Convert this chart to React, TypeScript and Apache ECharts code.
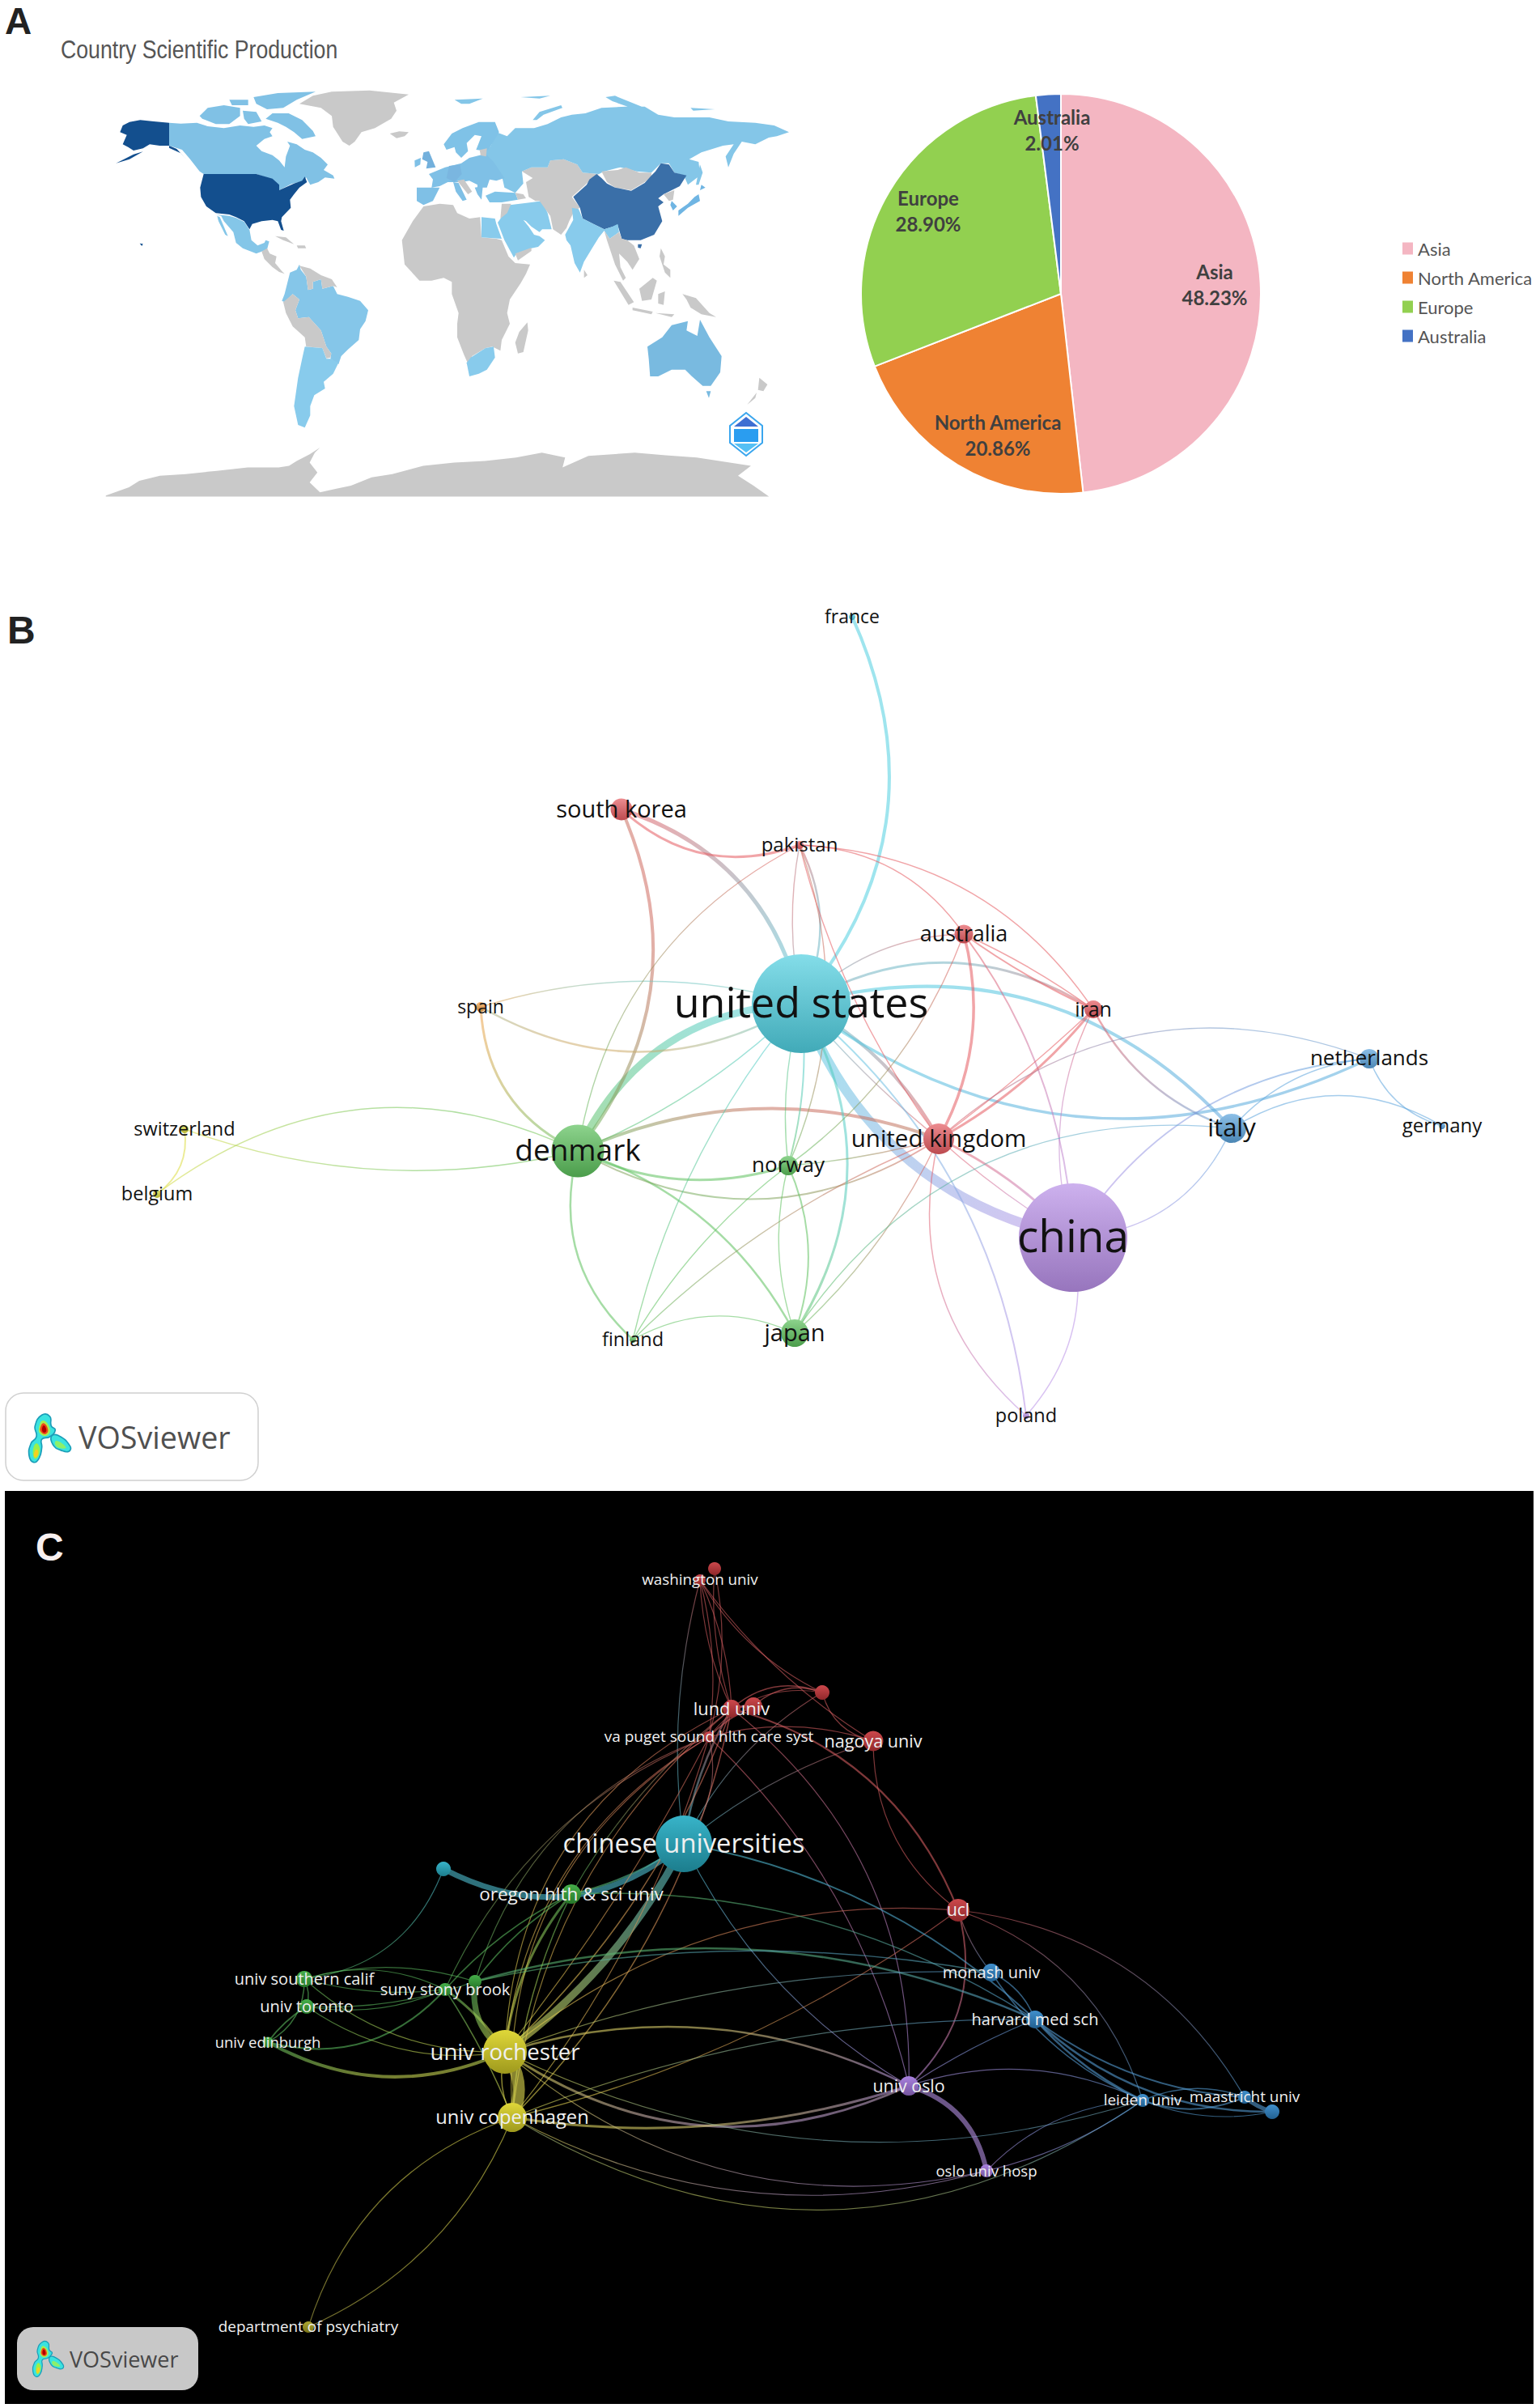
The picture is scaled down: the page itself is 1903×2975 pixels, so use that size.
import React, { useEffect, useRef } from "react";
import * as echarts from "echarts";

type Pt = [number, number];

// ---------- Panel A: pie ----------
const continents = ["Asia", "North America", "Europe", "Australia"];
const continentShare = [48.23, 20.86, 28.9, 2.01];
const continentColors = ["#f4b6c2", "#ef8233", "#92d050", "#4472c4"];
const pieLabelAt: Pt[] = [[1501, 351], [1233, 537], [1147, 260], [1300, 160]];

// ---------- Panel A: hand-traced map outlines ----------
const W = { ox: 110, oy: 100, sx: 3, sy: 3 };
const E = { ox: 480, oy: 100, sx: 3, sy: 3 };
const F = { ox: 600, oy: 100, sx: 3, sy: 3 };
const Z = { ox: 0, oy: 0, sx: 1.568, sy: 2.45 };
type Frame = typeof W;
const ring = (f: Frame, pts: number[]) => {
  const r: Pt[] = [];
  for (let i = 0; i < pts.length; i += 2) r.push([f.ox + pts[i] / f.sx, -(f.oy + pts[i + 1] / f.sy)]);
  r.push(r[0]);
  return [r];
};
const LIGHT = "#84c6e8";
const GRAY = "#c9c9c9";
const mapRegions: [string, string, [Frame, number[]][]][] = [
  ["Antarctica", GRAY, [[Z, [205,1500,250,1475,270,1455,310,1440,360,1435,420,1425,480,1415,540,1415,560,1410,575,1395,600,1375,620,1355,610,1370,600,1400,615,1430,600,1460,620,1490,650,1480,680,1470,720,1445,760,1435,820,1410,880,1400,940,1395,1000,1385,1050,1370,1095,1385,1090,1415,1140,1380,1230,1370,1290,1378,1350,1385,1455,1410,1430,1440,1460,1470,1490,1503,205,1503]]]],
  ["Greenland", GRAY, [[W, [780,85,830,55,900,40,1040,35,1185,50,1130,80,1140,110,1120,140,1060,175,1010,190,985,225,965,240,940,225,905,170,900,130,860,100]], [W, [1115,195,1150,187,1185,190,1170,205,1140,212]]]],
  ["Canada", "#80c1e5", [
    [W, [297,155,340,158,400,155,440,168,500,175,560,165,610,170,650,165,680,175,670,190,680,205,650,215,620,240,640,260,680,275,705,295,725,320,730,280,745,240,735,225,770,235,800,255,830,265,860,285,885,310,870,330,905,350,910,362,875,358,850,375,820,385,805,358,790,372,750,382,705,405,700,385,680,365,620,345,425,345,410,335,375,290,345,255,297,240]],
    [W, [830,185,790,145,740,120,680,120,655,140,700,155,730,170,760,190,790,215,840,205]],
    [W, [410,130,440,100,500,90,560,100,560,130,520,160,470,160,420,140]],
    [W, [610,60,700,45,840,40,770,70,720,100,660,105,620,85]],
    [W, [570,110,620,115,640,150,590,160,575,140]],
    [W, [520,70,590,70,590,90,530,90]],
  ]],
  ["United States", "#134f8e", [
    [W, [425,345,620,345,680,362,705,385,705,405,760,380,790,370,800,355,808,375,780,395,760,420,745,440,748,470,715,505,712,520,722,555,712,552,700,520,680,515,640,520,605,530,595,550,575,520,545,505,520,495,470,490,435,465,415,430,412,395]],
    [W, [297,155,240,150,190,145,150,152,125,165,115,190,140,200,125,235,145,245,165,258,200,250,225,235,262,240,297,240,325,252,362,292,340,268,297,248]],
    [W, [165,272,200,262,150,290,100,305]],
    [W, [188,602,200,604,196,612]],
  ]],
  ["Mexico", LIGHT, [[W, [470,495,520,500,545,508,575,522,595,552,602,590,625,610,650,600,655,590,668,595,660,625,640,632,620,640,570,620,545,600,535,560,500,520,490,500]], [W, [475,500,485,505,515,575,505,570,480,520]]]],
  ["Central America", GRAY, [[W, [640,632,660,620,670,640,695,650,690,675,715,705,725,715,705,708,680,690,650,660]], [W, [690,575,730,580,760,605,720,590]], [W, [770,610,800,610,805,620,775,620]]]],
  ["Brazil", "#85c6e9", [[W, [780,680,785,700,805,725,812,775,830,770,830,745,860,735,865,770,905,760,920,790,960,800,1005,815,1035,850,1025,890,1005,920,1000,960,960,995,935,1020,925,1050,895,1030,898,1010,880,985,860,925,815,875,775,880,765,850,780,810,755,790,725,820,715,815,725,790,735,750,745,710,770,700]]]],
  ["Andes", GRAY, [[W, [755,790,780,810,765,850,775,880,815,875,860,925,880,985,898,1010,895,1025,880,1028,865,990,805,985,800,950,755,910,730,860,720,820]], [W, [780,685,820,695,860,720,900,735,920,765,905,760,865,770,860,735,830,745,830,770,812,775,805,725]]]],
  ["Argentina", "#88cbec", [[W, [800,985,865,990,880,1030,895,1030,925,1045,905,1085,870,1115,875,1140,835,1165,820,1205,820,1240,800,1285,775,1275,760,1205,775,1100,790,1030]]]],
  ["Africa", GRAY, [[E, [130,465,190,455,240,460,255,490,300,510,340,505,345,580,400,585,420,590,445,650,470,675,525,680,510,715,490,750,450,810,440,860,450,900,420,960,415,1000,385,985,360,990,310,1020,300,1060,280,1015,255,950,255,900,260,860,235,790,235,745,205,730,160,740,115,740,60,680,50,590,90,520]], [E, [515,895,518,925,500,1005,480,1010,470,970,485,930]]]],
  ["South Africa", "#88cbec", [[E, [305,1025,360,990,390,985,395,1025,365,1070,335,1085,300,1095,290,1045]]]],
  ["Egypt", "#88cbec", [[E, [345,505,395,510,400,530,420,585,345,580]]]],
  ["Middle East", "#88cbec", [[E, [450,460,530,450,570,445,590,490,605,550,570,550,560,560,530,540,510,520,500,515,520,540,540,570,560,575,580,590,555,615,530,620,475,640,465,655,430,590,405,525,430,490]]]],
  ["Yemen", GRAY, [[E, [470,640,530,618,530,630,480,665]], [E, [420,455,455,455,440,490,415,510]]]],
  ["Turkey", "#80c4e8", [[E, [360,425,395,410,470,415,480,440,420,450,375,450]]]],
  ["Central Asia", GRAY, [[E, [495,335,530,320,590,320,600,295,650,290,700,310,720,340,780,345,755,360,730,385,680,430,710,470,690,480,670,520,660,545,640,570,610,550,600,500,560,445,545,445,520,430,510,375,535,360]], [E, [470,415,500,420,510,435,480,440]]]],
  ["Russia", "#84c6e8", [[E, [400,190,440,205,470,175,540,175,590,160,640,135,680,125,730,120,790,100,880,95,950,95,1000,125,1060,135,1190,135,1260,150,1360,155,1430,165,1485,190,1440,205,1410,210,1360,235,1310,225,1280,270,1260,320,1250,280,1280,235,1240,240,1160,265,1115,290,1150,300,1155,350,1110,385,1095,350,1060,340,1040,305,1010,305,975,340,920,335,860,320,800,335,780,345,720,340,700,310,650,290,600,295,590,320,530,320,495,335,500,380,470,415,430,395,420,350,380,340,360,295,360,260,380,240]],
    [F, [175,145,200,115,280,90,285,100,215,125,190,145]], [E, [245,70,350,65,300,85,270,85]], [E, [490,60,600,55,560,65]], [F, [445,60,480,55,590,100,540,100,470,75]], [F, [760,100,850,105,770,110]], [F, [795,310,805,340,790,385,780,385]],
  ]],
  ["Scandinavia", "#7fc2e7", [[E, [205,235,235,195,275,175,335,152,395,152,410,190,380,240,365,260,325,255,345,205,320,200,290,230,295,260,270,285,250,265,245,245,215,255]]]],
  ["Europe", "#7fc0e6", [[E, [150,345,210,320,270,305,300,285,360,270,390,300,430,360,400,370,375,365,365,395,330,395,330,385,300,370,270,375,255,375,220,375,190,390,160,395,165,365]], [E, [240,375,260,378,290,440,275,445,250,410]], [E, [320,395,350,390,345,440,330,420]], [E, [105,395,190,395,165,445,130,460,105,445]], [E, [97,295,120,285,118,310,98,320]]]],
  ["Balkans", GRAY, [[E, [255,370,280,365,310,410,295,420]], [E, [338,256,365,250,362,280,342,276]]]],
  ["Germany", "#7ab6e0", [[E, [225,315,265,310,272,345,245,375,215,360]]]],
  ["United Kingdom", "#73b0dc", [[E, [130,265,150,260,175,320,140,325,145,300,125,290]]]],
  ["Mongolia", GRAY, [[F, [430,335,490,330,520,320,570,340,615,340,615,355,590,375,540,405,480,395,450,375]]]],
  ["China", "#3a6fa8", [[F, [412,345,430,360,450,380,480,395,540,407,590,378,615,350,630,335,650,305,680,310,700,340,745,350,720,390,690,405,660,420,640,435,660,450,640,465,655,520,625,570,575,590,525,590,505,585,490,535,440,550,400,530,360,510,350,470,325,430,375,385,385,365]], [F, [565,605,580,605,575,620,565,618]]]],
  ["India", "#88cbec", [[F, [320,470,345,475,360,510,400,530,440,550,470,540,490,530,495,560,460,585,440,555,420,580,395,620,365,670,350,710,330,675,315,610,300,590,295,570,325,515]]]],
  ["Southeast Asia", GRAY, [[F, [440,555,460,585,495,560,505,585,525,590,550,610,570,660,545,700,525,670,495,640,500,690,520,730,510,740,480,680,450,590]], [F, [365,700,378,720,365,730]], [F, [475,740,500,745,550,820,530,830]], [F, [545,840,620,855,615,865,545,850]], [F, [570,770,620,730,635,740,615,810,580,815]], [F, [640,790,665,780,660,830,640,825]], [F, [650,620,665,650,660,680,685,700,685,730,665,710,645,650]], [F, [730,790,780,805,830,860,855,875,800,865,760,840,745,810]], [F, [630,860,700,865,690,875]], [F, [660,420,700,405,695,440,680,445]]]],
  ["Japan", "#6fb5e3", [[F, [800,385,815,395,795,405]], [F, [790,420,795,445,750,470,715,500,715,480,750,455,775,430]], [F, [690,445,710,465,695,480,685,460]]]],
  ["Australia", "#79bae0", [[F, [600,985,655,950,690,905,750,890,745,925,785,945,795,885,830,950,875,1020,870,1080,835,1130,805,1130,765,1095,740,1070,690,1070,640,1095,610,1095,605,1030]], [F, [818,1150,835,1150,828,1175]]]],
  ["New Zealand", GRAY, [[F, [1015,1100,1045,1125,1030,1150,1010,1145]], [F, [1005,1155,970,1200,1000,1175]]]],
];

// ---------- Panel B: network ----------
const bRed = "#e55a60", bCyan = "#4fcfe0", bPurple = "#b88fe6", bGreen = "#5cc05c", bBlue = "#5ba3dc", bOrange = "#f2a24a", bYellow = "#dcdc40";
const bNodes: [string, number, number, number, number, string][] = [
  ["france", 1053, 762, 8, 23, bCyan],
  ["south korea", 768, 1000, 27, 29, bRed],
  ["pakistan", 988, 1044, 10, 24, bRed],
  ["australia", 1191, 1154, 23, 27, bRed],
  ["united states", 990, 1240, 122, 52, bCyan],
  ["spain", 594, 1244, 12, 23, bOrange],
  ["iran", 1351, 1247, 22, 25, bRed],
  ["netherlands", 1692, 1308, 24, 26, bBlue],
  ["germany", 1782, 1391, 8, 24, bBlue],
  ["italy", 1522, 1394, 36, 31, bBlue],
  ["switzerland", 228, 1395, 10, 23.5, bYellow],
  ["united kingdom", 1160, 1407, 38, 29.5, bRed],
  ["denmark", 714, 1422, 65, 37, bGreen],
  ["norway", 974, 1440, 24, 26, bGreen],
  ["belgium", 194, 1475, 10, 23.5, bYellow],
  ["china", 1326, 1529, 134, 55, bPurple],
  ["japan", 982, 1647, 34, 29, bGreen],
  ["finland", 782, 1655, 8, 23.5, bGreen],
  ["poland", 1268, 1749, 8, 23.5, bPurple],
];
const bEdges: [string, string, number, number][] = [
  ["united states", "china", 12, -0.27],
  ["denmark", "united states", 9, 0.3],
  ["south korea", "united states", 5, 0.28],
  ["south korea", "pakistan", 3, -0.3],
  ["south korea", "denmark", 4, 0.3],
  ["france", "united states", 4, 0.31],
  ["spain", "united states", 1.5, 0.15],
  ["spain", "united states", 2.5, -0.29],
  ["spain", "denmark", 3, -0.3],
  ["switzerland", "denmark", 1.5, -0.15],
  ["belgium", "denmark", 1.5, 0.3],
  ["switzerland", "belgium", 2, 0.3],
  ["denmark", "pakistan", 1, 0.25],
  ["denmark", "united states", 1.5, -0.1],
  ["denmark", "united kingdom", 4, 0.2],
  ["denmark", "norway", 3, -0.2],
  ["denmark", "japan", 2.5, 0.2],
  ["denmark", "finland", 2.5, -0.3],
  ["denmark", "united kingdom", 2, -0.3],
  ["finland", "united kingdom", 1, 0.1],
  ["finland", "united states", 1, 0.12],
  ["finland", "norway", 1, 0.1],
  ["finland", "japan", 1, 0.25],
  ["united states", "united kingdom", 4, 0.15],
  ["united states", "united kingdom", 1, -0.05],
  ["united states", "australia", 1.5, 0.2],
  ["united states", "iran", 3, 0.3],
  ["united states", "italy", 4, 0.3],
  ["united states", "netherlands", 3.5, -0.3],
  ["united states", "japan", 3, 0.3],
  ["united states", "norway", 2, 0.1],
  ["united states", "norway", 1, -0.1],
  ["united states", "pakistan", 2.5, -0.25],
  ["pakistan", "united kingdom", 1.2, -0.1],
  ["pakistan", "norway", 1, 0.2],
  ["pakistan", "united states", 1.2, -0.1],
  ["pakistan", "australia", 1.2, 0.25],
  ["pakistan", "iran", 1.2, 0.25],
  ["australia", "iran", 2, -0.05],
  ["australia", "iran", 1.5, 0.05],
  ["australia", "united kingdom", 3.5, 0.2],
  ["australia", "norway", 1, 0.15],
  ["australia", "china", 2, 0.15],
  ["iran", "united kingdom", 3, 0.1],
  ["iran", "united kingdom", 1, 0.03],
  ["iran", "italy", 2.5, -0.2],
  ["iran", "china", 1.2, -0.2],
  ["united kingdom", "china", 3, 0.1],
  ["united kingdom", "china", 1, -0.05],
  ["united kingdom", "netherlands", 1.2, 0.3],
  ["united kingdom", "poland", 1.5, -0.3],
  ["united kingdom", "norway", 1, 0.05],
  ["united kingdom", "japan", 1, 0.1],
  ["china", "poland", 1.5, 0.25],
  ["united states", "poland", 2, 0.2],
  ["china", "italy", 1.2, -0.3],
  ["china", "netherlands", 2, 0.25],
  ["italy", "netherlands", 1, 0.2],
  ["italy", "germany", 1.2, 0.3],
  ["netherlands", "germany", 1.5, -0.25],
  ["japan", "italy", 1, 0.3],
  ["norway", "japan", 2, 0.2],
  ["norway", "japan", 1, -0.15],
];

// ---------- Panel C: network ----------
const cRed = "#c8383c", cTeal = "#27aec4", cGreen = "#36a83a", cYellow = "#dcd428", cBlue = "#2f85c8", cPurple = "#a276dc";
const cNodes: [string, string, number, number, number, number, string][] = [
  ["top", "", 883, 1938, 16, 0, cRed],
  ["wash", "washington univ", 865, 1952, 14, 18.8, cRed],
  ["lund", "lund univ", 904, 2111, 22, 21.8, cRed],
  ["red2", "", 931, 2108, 22, 0, cRed],
  ["red3", "", 1016, 2091, 18, 0, cRed],
  ["nagoya", "nagoya univ", 1079, 2151, 25, 21.6, cRed],
  ["va", "va puget sound hlth care syst", 876, 2146, 14, 19, cRed],
  ["chinese", "chinese universities", 845, 2278, 70, 32.7, cTeal],
  ["tealn", "", 548, 2309, 18, 0, cTeal],
  ["oregon", "oregon hlth & sci univ", 706, 2340, 24, 22.5, cGreen],
  ["grn", "", 587, 2448, 16, 0, cGreen],
  ["suny", "suny stony brook", 550, 2458, 16, 20, cGreen],
  ["usc", "univ southern calif", 376, 2445, 20, 20, cGreen],
  ["toronto", "univ toronto", 379, 2479, 18, 20, cGreen],
  ["edin", "univ edinburgh", 331, 2523, 13, 18.5, cGreen],
  ["roch", "univ rochester", 624, 2535, 54, 27.6, cYellow],
  ["cope", "univ copenhagen", 633, 2616, 36, 23.7, cYellow],
  ["psych", "department of psychiatry", 381, 2875, 14, 18.9, "#a8a020"],
  ["ucl", "ucl", 1184, 2360, 28, 21, cRed],
  ["monash", "monash univ", 1225, 2437, 22, 20, cBlue],
  ["harvard", "harvard med sch", 1279, 2495, 22, 20, cBlue],
  ["oslo", "univ oslo", 1123, 2577, 24, 21.4, cPurple],
  ["hosp", "oslo univ hosp", 1219, 2682, 16, 18.6, cPurple],
  ["leiden", "leiden univ", 1412, 2595, 16, 19, cBlue],
  ["maast", "maastricht univ", 1538, 2591, 16, 18.9, cBlue],
  ["blue2", "", 1572, 2609, 18, 0, cBlue],
];
const cEdges: [string, string, number, number][] = [
  ["chinese", "roch", 9, 0.12], ["chinese", "tealn", 7, 0.33], ["chinese", "oregon", 2, 0.1], ["chinese", "lund", 2.5, 0.1],
  ["chinese", "va", 1, -0.25], ["chinese", "wash", 1, 0.1], ["chinese", "red3", 1, 0.15], ["chinese", "nagoya", 1, 0.1],
  ["roch", "cope", 15, 0.3], ["roch", "cope", 1.5, -0.2], ["roch", "grn", 7, 0.3], ["roch", "suny", 3, -0.1],
  ["roch", "edin", 4, 0.25], ["roch", "oregon", 3, 0.15], ["roch", "oslo", 2.5, 0.2], ["roch", "oslo", 3, -0.28],
  ["cope", "oslo", 3, -0.12], ["cope", "hosp", 1, -0.2], ["roch", "hosp", 1, -0.25], ["cope", "leiden", 1, -0.32],
  ["roch", "leiden", 1, -0.2], ["roch", "lund", 1, 0.3], ["roch", "va", 1, 0.25], ["cope", "lund", 1, 0.2],
  ["cope", "va", 1, 0.3], ["suny", "va", 1, 0.2], ["grn", "va", 1, 0.25], ["oregon", "lund", 1.2, 0.1],
  ["roch", "lund", 1.5, -0.12], ["cope", "lund", 1.5, -0.15], ["cope", "va", 1, -0.1], ["roch", "va", 1, -0.05],
  ["wash", "lund", 1.2, 0.1], ["wash", "lund", 1, -0.1], ["wash", "va", 1, 0.1], ["top", "lund", 1.2, -0.1],
  ["wash", "red3", 1, -0.15], ["wash", "nagoya", 1, -0.1], ["top", "va", 1, 0.12], ["lund", "red2", 3, 0.1],
  ["lund", "red3", 1.5, 0.3], ["va", "red2", 1.5, 0.1], ["va", "red3", 1, 0.3], ["red2", "red3", 1.5, 0.3],
  ["va", "nagoya", 1, 0.15], ["red3", "nagoya", 1, -0.3], ["lund", "ucl", 2.2, 0.25], ["nagoya", "ucl", 1, -0.25],
  ["lund", "oslo", 1, 0.25], ["va", "oslo", 1, 0.15], ["ucl", "oslo", 2, 0.3], ["roch", "ucl", 1, 0.2],
  ["cope", "ucl", 1, -0.1], ["ucl", "leiden", 1, 0.25], ["ucl", "maast", 1, 0.25], ["ucl", "monash", 1, -0.1],
  ["chinese", "harvard", 2, 0.15], ["oregon", "harvard", 1.5, 0.16], ["grn", "harvard", 2.5, 0.18], ["grn", "monash", 1.5, 0.1],
  ["roch", "monash", 1, 0.1], ["cope", "harvard", 1, 0.1], ["oslo", "harvard", 1, 0.05], ["oslo", "leiden", 1, 0.2],
  ["monash", "harvard", 1.5, 0.2], ["monash", "leiden", 1.5, -0.15], ["harvard", "leiden", 2.5, -0.1], ["harvard", "blue2", 2.5, -0.2],
  ["harvard", "maast", 2, -0.15], ["leiden", "maast", 1.5, 0.2], ["leiden", "maast", 2, -0.2], ["leiden", "blue2", 1, -0.15],
  ["maast", "blue2", 5, -0.1], ["hosp", "leiden", 1, 0.2], ["hosp", "leiden", 1, -0.1], ["oslo", "hosp", 6, 0.3],
  ["oslo", "chinese", 1, 0.15], ["cope", "psych", 1, 0.2], ["cope", "psych", 1, -0.25], ["usc", "suny", 1.2, 0.2],
  ["usc", "suny", 1, -0.1], ["usc", "grn", 1.2, 0.15], ["usc", "toronto", 1.5, 0.2], ["usc", "edin", 1.5, 0.3],
  ["toronto", "suny", 1, -0.15], ["toronto", "grn", 1, -0.1], ["toronto", "edin", 2, -0.1], ["edin", "suny", 2, -0.3],
  ["usc", "roch", 1, -0.2], ["toronto", "roch", 1, -0.2], ["grn", "oregon", 1.5, 0.1], ["suny", "oregon", 1.5, 0.1],
  ["suny", "cope", 1.5, 0.05], ["oregon", "cope", 1.5, -0.1], ["tealn", "usc", 1, 0.3],
];

// ---------- helpers ----------
const shade = (hex: string, f: number) => {
  const n = parseInt(hex.slice(1), 16);
  const ch = [(n >> 16) & 255, (n >> 8) & 255, n & 255];
  const m = ch.map((c) => Math.round(f > 0 ? c + (255 - c) * f : c * (1 + f)));
  return `rgb(${m[0]},${m[1]},${m[2]})`;
};
const nodeFill = (c: string, top: number, bottom: number) =>
  new echarts.graphic.LinearGradient(0, 0, 0, 1, [
    { offset: 0, color: shade(c, top) },
    { offset: 1, color: shade(c, bottom) },
  ]);
const edgeLink = (
  id: (n: string) => { x: number; y: number; c: string },
  e: [string, string, number, number],
  opacity: number,
  lighten: number,
  minWidth: number,
) => {
  const a = id(e[0]), b = id(e[1]);
  const x0 = a.x < b.x ? 0 : 1, y0 = a.y < b.y ? 0 : 1;
  return {
    source: e[0],
    target: e[1],
    lineStyle: {
      width: Math.max(e[2], minWidth),
      curveness: e[3],
      opacity,
      color: new echarts.graphic.LinearGradient(x0, y0, 1 - x0, 1 - y0, [
        { offset: 0, color: shade(a.c, lighten) },
        { offset: 1, color: shade(b.c, lighten) },
      ]),
    },
  };
};

const vosIcon = (x: number, y: number, s: number) => {
  const blob = (points: number[][], fill: string, stroke?: string) => ({
    type: "polygon",
    shape: { points, smooth: 0.5 },
    style: { fill, stroke: stroke || "none", lineWidth: stroke ? 5 : 0 },
  });
  const one = [[95,55],[125,60],[130,95],[145,110],[125,135],[95,145],[95,175],[85,215],[65,230],[48,205],[55,160],[75,135],[70,95]];
  const two = [[130,135],[155,130],[200,170],[195,190],[165,185],[140,170]];
  return {
    type: "group",
    x, y, scaleX: s, scaleY: s,
    children: [
      blob(one, "#3be3df", "#1b9db8"),
      blob(two, "#3be3df", "#1b9db8"),
      blob([[150,150],[185,175],[165,178],[145,165]], "#8df06a"),
      blob([[62,190],[75,160],[88,185],[72,218]], "#9bf04a"),
      blob([[66,200],[76,182],[82,200],[70,212]], "#f5d020"),
      blob([[100,75],[125,105],[115,130],[90,125],[85,100]], "#a8ee50"),
      blob([[102,85],[118,108],[110,125],[92,118],[90,100]], "#f04818"),
      blob([[102,93],[112,110],[105,120],[96,112]], "#b00000"),
    ],
  };
};

const App = () => {
  const ref = useRef<HTMLDivElement>(null);
  useEffect(() => {
    if (!ref.current) return;
    const chart = echarts.init(ref.current, undefined, { renderer: "svg" });
    echarts.registerMap("tracedWorld", {
      type: "FeatureCollection",
      features: mapRegions.map(([name, , parts]) => ({
        type: "Feature",
        properties: { name },
        geometry: { type: "MultiPolygon", coordinates: parts.map(([f, p]) => ring(f, p)) },
      })),
    } as any);

    const bIndex = new Map(bNodes.map((n) => [n[0], { x: n[1], y: n[2], c: n[5] }]));
    const cIndex = new Map(cNodes.map((n) => [n[0], { x: n[2], y: n[3], c: n[6] }]));
    const text = (t: string, x: number, y: number, font: string, fill: string, align = "left") => ({
      type: "text",
      style: { text: t, x, y, font, fill, textAlign: align, textVerticalAlign: "middle" },
    });

    chart.setOption({
      animation: false,
      backgroundColor: "#ffffff",
      grid: { left: 0, top: 0, width: 1903, height: 2975, containLabel: false },
      xAxis: { type: "value", min: 0, max: 1903, show: false },
      yAxis: { type: "value", min: 0, max: 2975, inverse: true, show: false },
      legend: {
        data: continents,
        orient: "vertical",
        left: 1731,
        top: 296,
        padding: 0,
        itemWidth: 15,
        itemHeight: 17,
        itemGap: 14,
        icon: "rect",
        selectedMode: false,
        textStyle: { fontFamily: "Lato", fontSize: 22, color: "#555555" },
      },
      graphic: {
        elements: [
          { type: "rect", shape: { x: 6, y: 1842, width: 1889, height: 1128 }, style: { fill: "#000000" } },
          text("A", 6, 26, 'bold 46px "Liberation Sans"', "#222222"),
          text("B", 9, 778, 'bold 48px "Liberation Sans"', "#222222"),
          text("C", 44, 1911, 'bold 48px "Liberation Sans"', "#f8f0f0"),
          { type: "text", x: 75, y: 61, scaleX: 0.86, style: { text: "Country Scientific Production", x: 0, y: 0, font: '31px "Liberation Sans"', fill: "#555555", textVerticalAlign: "middle" } },
          { type: "rect", shape: { x: 7, y: 1721, width: 312, height: 108, r: 22 }, style: { fill: "#ffffff", stroke: "#d0d0d0", lineWidth: 1.5 } },
          vosIcon(20, 1730, 1 / 3),
          text("VOSviewer", 97, 1775, '37.7px "Open Sans"', "#505050"),
          { type: "rect", shape: { x: 21, y: 2875, width: 224, height: 78, r: 20 }, style: { fill: "#c8c8c8" } },
          vosIcon(29, 2880, 0.245),
          text("VOSviewer", 86, 2914, '27px "Open Sans"', "#484848"),
          { type: "polygon", shape: { points: [[922,510],[942,526],[942,547],[922,563],[902,547],[902,526]] }, style: { fill: "#ffffff", stroke: "#3aa6ee", lineWidth: 2 } },
          { type: "polygon", shape: { points: [[922,515],[937,527],[907,527]] }, style: { fill: "#3f6fd2" } },
          { type: "rect", shape: { x: 907, y: 530, width: 30, height: 16 }, style: { fill: "#2a9df0" } },
          { type: "polygon", shape: { points: [[907,548],[937,548],[922,559]] }, style: { fill: "#55c0f5" } },
        ],
      },
      series: [
        {
          type: "map",
          map: "tracedWorld",
          left: 0,
          top: 0,
          width: 1000,
          height: 640,
          aspectScale: 1,
          boundingCoords: [[0, 0], [1000, -640]],
          roam: false,
          silent: true,
          label: { show: false },
          emphasis: { disabled: true },
          select: { disabled: true },
          itemStyle: { areaColor: GRAY, borderWidth: 0, borderColor: "transparent" },
          data: mapRegions.map(([name, color]) => ({ name, itemStyle: { areaColor: color } })),
        },
        {
          type: "pie",
          center: [1311, 363],
          radius: [0, 247],
          startAngle: 90,
          silent: true,
          itemStyle: { borderColor: "#ffffff", borderWidth: 2 },
          label: {
            show: true,
            position: "inside",
            formatter: (p: any) => `${p.name}\n${continentShare[p.dataIndex].toFixed(2)}%`,
            fontFamily: "Lato",
            fontWeight: "bold",
            fontSize: 24,
            lineHeight: 32,
            color: "#404040",
            align: "center",
          },
          labelLine: { show: false },
          labelLayout: (p: any) => ({ x: pieLabelAt[p.dataIndex][0], y: pieLabelAt[p.dataIndex][1], align: "center", verticalAlign: "middle" }),
          data: continents.map((name, i) => ({ name, value: continentShare[i], itemStyle: { color: continentColors[i] } })),
        },
        {
          type: "graph",
          coordinateSystem: "cartesian2d",
          layout: "none",
          silent: true,
          data: bNodes.map((n) => ({
            name: n[0],
            value: [n[1], n[2]],
            symbolSize: n[3],
            itemStyle: { color: nodeFill(n[5], 0.3, -0.18) },
            label: { show: true, position: "inside", offset: [0, -n[4] * 0.06], fontFamily: "Open Sans", fontSize: n[4], color: "#111111" },
          })),
          links: bEdges.map((e) => edgeLink((k) => bIndex.get(k)!, e, 0.55, 0, 1.4)),
        },
        {
          type: "graph",
          coordinateSystem: "cartesian2d",
          layout: "none",
          silent: true,
          data: cNodes.map((n) => ({
            name: n[0],
            value: [n[2], n[3]],
            symbolSize: n[4],
            itemStyle: { color: nodeFill(n[6], 0.08, -0.28) },
            label: n[1]
              ? { show: true, formatter: n[1], position: "inside", offset: [0, -n[5] * 0.04], fontFamily: "Open Sans", fontSize: n[5], color: "#f0f0f0" }
              : { show: false },
          })),
          links: cEdges.map((e) => edgeLink((k) => cIndex.get(k)!, e, 0.6, 0.18, 1.2)),
        },
      ],
    } as any);
    return () => chart.dispose();
  }, []);
  return <div ref={ref} style={{ position: "absolute", left: 0, top: 0, width: 1903, height: 2975 }} />;
};

export default App;
